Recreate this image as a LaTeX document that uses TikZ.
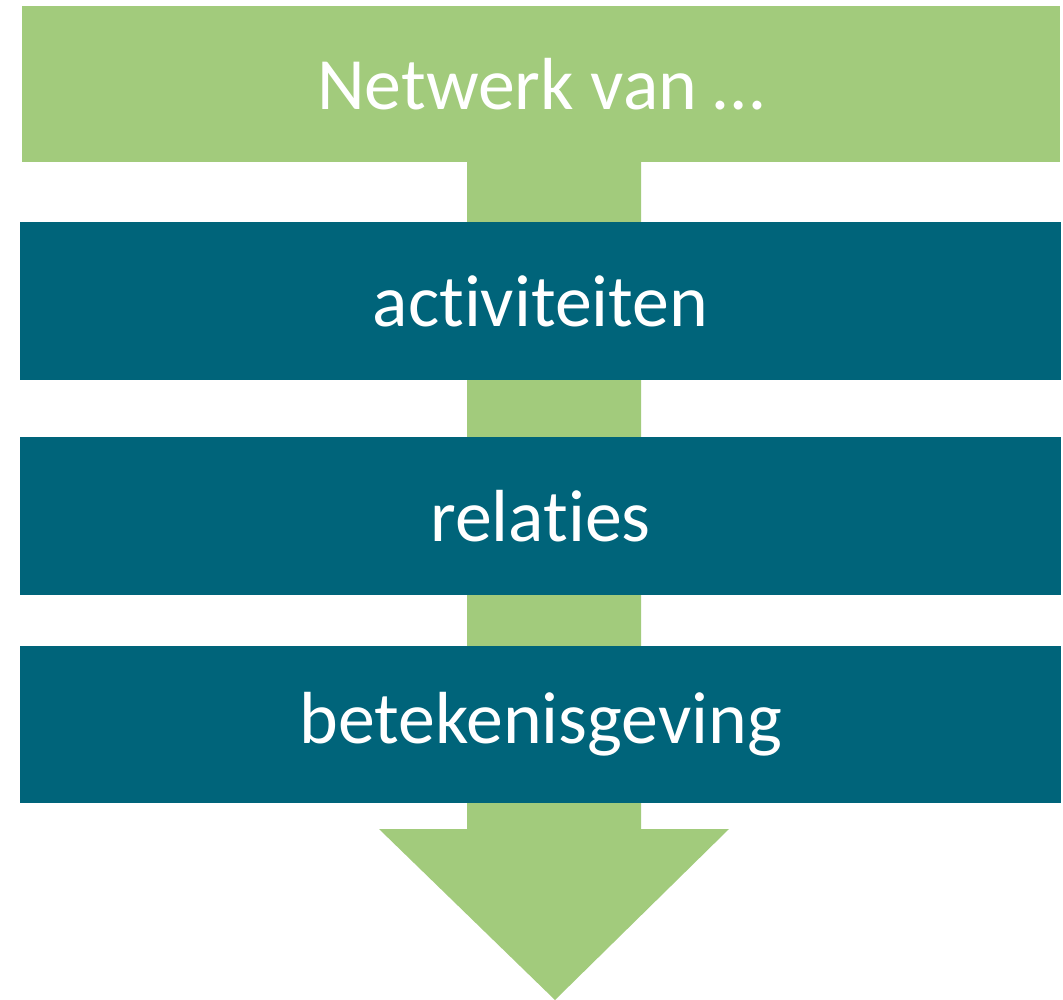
\documentclass[tikz,border=0pt]{standalone}
\usepackage{fontspec}
\setmainfont[RawFeature=-liga]{Carlito}
\definecolor{netgreen}{HTML}{A2CB7C}
\definecolor{netblue}{HTML}{00647A}
\tikzset{
  topbar/.style={fill=netgreen, text=white, minimum width=20.76cm, minimum height=3.12cm, inner sep=0pt, font=\fontsize{42}{50}\selectfont},
  levelbar/.style={fill=netblue, text=white, minimum width=20.82cm, minimum height=3.16cm, inner sep=0pt, font=\fontsize{42}{50}\selectfont}
}
\begin{document}
\begin{tikzpicture}[x=0.02cm,y=-0.02cm]
    \useasboundingbox (0,0) rectangle (1063,1000);

    % Draw the arrow behind the bars
    \fill[netgreen] (467,160) -- (641,160) -- (641,829) -- (729,829)
        -- (555,1000) -- (379,829) -- (467,829) -- cycle;

    % Top bar
    \node[topbar] (netwerk) at (541,84) {Netwerk van …};

    % Levels
    \node[levelbar] (activiteiten) at (540.5,301) {activiteiten};
    \node[levelbar] (relaties) at (540.5,516) {relaties};
    \node[levelbar] (betekenis) at (540.5,724.5) {betekenisgeving};
\end{tikzpicture}
\end{document}
